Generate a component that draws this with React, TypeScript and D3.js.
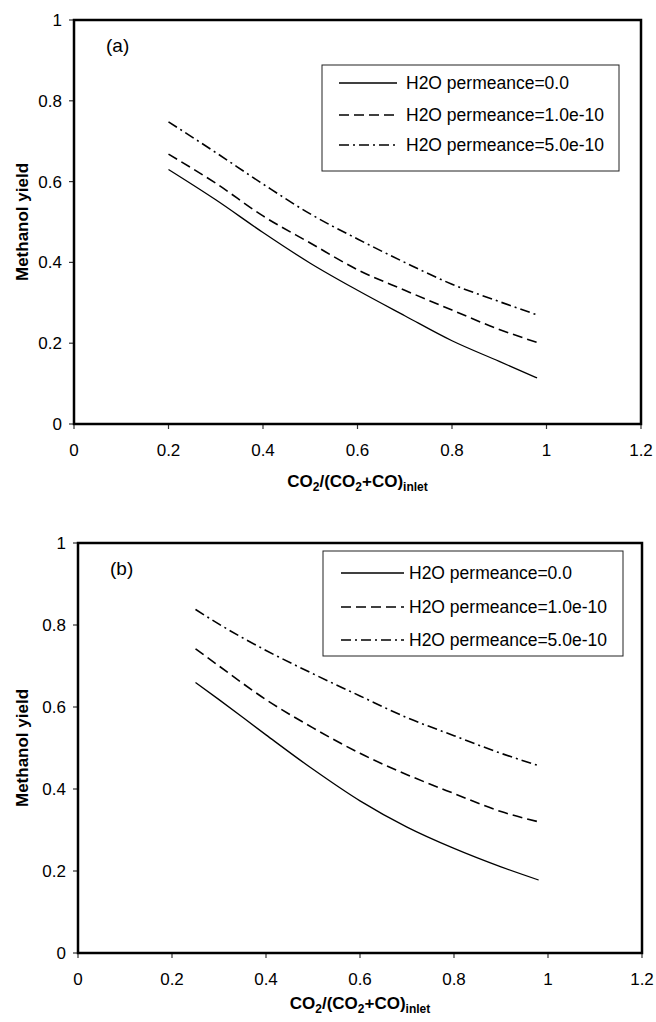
import React from "react";
import * as d3 from "d3";

// CO2 fraction at the reactor inlet
const xA = [0.2, 0.3, 0.4, 0.5, 0.6, 0.7, 0.8, 0.9, 0.98];
const xB = [0.25, 0.3, 0.4, 0.5, 0.6, 0.7, 0.8, 0.9, 0.98];

// Methanol yield, panel (a)
const yieldA0 = [0.63, 0.555, 0.474, 0.398, 0.331, 0.268, 0.206, 0.155, 0.114];
const yieldA1 = [0.668, 0.596, 0.515, 0.448, 0.382, 0.331, 0.282, 0.234, 0.202];
const yieldA5 = [0.748, 0.672, 0.594, 0.52, 0.458, 0.4, 0.346, 0.303, 0.27];

// Methanol yield, panel (b)
const yieldB0 = [0.66, 0.618, 0.532, 0.448, 0.371, 0.307, 0.255, 0.21, 0.178];
const yieldB1 = [0.742, 0.7, 0.618, 0.549, 0.487, 0.435, 0.389, 0.345, 0.32];
const yieldB5 = [0.838, 0.802, 0.738, 0.681, 0.627, 0.574, 0.53, 0.487, 0.457];

const seriesNames = [
  "H2O permeance=0.0",
  "H2O permeance=1.0e-10",
  "H2O permeance=5.0e-10",
];
const dashes = ["none", "10 5", "10 4 2 4"];
const widths = [1.3, 1.6, 1.6];

const xTicks = [0, 0.2, 0.4, 0.6, 0.8, 1, 1.2];
const yTicks = [0, 0.2, 0.4, 0.6, 0.8, 1];

const FONT = "'Liberation Sans', Arial, sans-serif";

type PanelProps = {
  label: string;
  xs: number[];
  ys: number[][];
  left: number;
  right: number;
  top: number;
  bottom: number;
  titleGap: number;
  legend: { x0: number; x1: number; y0: number; y1: number; rows: number[]; s0: number; s1: number; tx: number };
};

function Panel({ label, xs, ys, left, right, top, bottom, titleGap, legend }: PanelProps) {
  const x = d3.scaleLinear().domain([0, 1.2]).range([left, right]);
  const y = d3.scaleLinear().domain([0, 1]).range([bottom, top]);
  const line = d3
    .line<[number, number]>()
    .x((d) => x(d[0]))
    .y((d) => y(d[1]))
    .curve(d3.curveMonotoneX);

  return (
    <g>
      {/* curves */}
      {ys.map((vals, i) => (
        <path
          key={i}
          d={line(xs.map((v, j) => [v, vals[j]] as [number, number])) || ""}
          fill="none"
          stroke="#000"
          strokeWidth={widths[i]}
          strokeDasharray={dashes[i]}
        />
      ))}

      {/* ticks */}
      {xTicks.map((t) => (
        <g key={"x" + t}>
          <line x1={x(t)} x2={x(t)} y1={bottom} y2={bottom + 5} stroke="#333" strokeWidth={1.2} />
          <text x={x(t)} y={bottom + 32} textAnchor="middle" fontSize={17} fontFamily={FONT}>
            {t}
          </text>
        </g>
      ))}
      {yTicks.map((t) => (
        <g key={"y" + t}>
          <line x1={left - 5} x2={left} y1={y(t)} y2={y(t)} stroke="#333" strokeWidth={1.2} />
          <text x={left - 12} y={y(t)} dy="0.35em" textAnchor="end" fontSize={17} fontFamily={FONT}>
            {t}
          </text>
        </g>
      ))}

      {/* frame */}
      <rect x={left} y={top} width={right - left} height={bottom - top} fill="none" stroke="#000" strokeWidth={2.5} />

      {/* panel label */}
      <text x={left + 32} y={top + 25} dy="0.35em" fontSize={19} fontFamily={FONT}>
        {label}
      </text>

      {/* legend */}
      <rect
        x={legend.x0}
        y={legend.y0}
        width={legend.x1 - legend.x0}
        height={legend.y1 - legend.y0}
        fill="#fff"
        stroke="#222"
        strokeWidth={1}
      />
      {seriesNames.map((name, i) => (
        <g key={name}>
          <line
            x1={legend.s0}
            x2={legend.s1}
            y1={legend.rows[i]}
            y2={legend.rows[i]}
            stroke="#000"
            strokeWidth={widths[i]}
            strokeDasharray={dashes[i]}
          />
          <text x={legend.tx} y={legend.rows[i]} dy="0.35em" fontSize={17.5} fontFamily={FONT}>
            {name}
          </text>
        </g>
      ))}

      {/* axis titles */}
      <text
        transform={`translate(22,${(top + bottom) / 2}) rotate(-90)`}
        textAnchor="middle"
        dy="0.35em"
        fontSize={17}
        fontWeight="bold"
        fontFamily={FONT}
      >
        Methanol yield
      </text>
      <text x={(left + right) / 2} y={bottom + titleGap} textAnchor="middle" fontSize={17} fontWeight="bold" fontFamily={FONT}>
        CO<tspan fontSize={12} dy={4}>2</tspan>
        <tspan dy={-4}>/(CO</tspan>
        <tspan fontSize={12} dy={4}>2</tspan>
        <tspan dy={-4}>+CO)</tspan>
        <tspan fontSize={12} dy={4}>inlet</tspan>
      </text>
    </g>
  );
}

export default function App() {
  return (
    <svg
      width={656}
      height={1022}
      style={{ position: "absolute", left: 0, top: 0, background: "#fff" }}
    >
      <rect width={656} height={1022} fill="#fff" />
      <Panel
        label="(a)"
        xs={xA}
        ys={[yieldA0, yieldA1, yieldA5]}
        left={74}
        right={641}
        top={20}
        bottom={424}
        titleGap={63}
        legend={{ x0: 322, x1: 619, y0: 65, y1: 171, rows: [83, 115, 145], s0: 339, s1: 397, tx: 406 }}
      />
      <Panel
        label="(b)"
        xs={xB}
        ys={[yieldB0, yieldB1, yieldB5]}
        left={78}
        right={642}
        top={543}
        bottom={953}
        titleGap={56}
        legend={{ x0: 323, x1: 623, y0: 551, y1: 656, rows: [573, 607, 640], s0: 341, s1: 404, tx: 409 }}
      />
    </svg>
  );
}
